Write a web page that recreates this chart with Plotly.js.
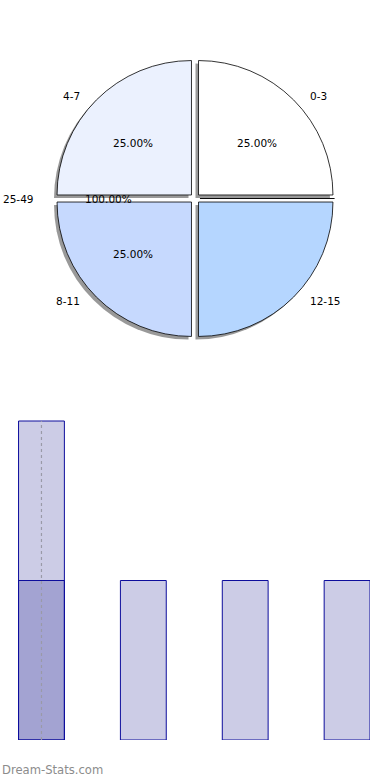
<!DOCTYPE html>
<html>
<head>
<meta charset="utf-8">
<script src="https://cdn.plot.ly/plotly-3.0.1.min.js"></script>
<style>html,body{margin:0;padding:0;background:#fff}#chart{width:390px;height:780px}</style>
</head>
<body>
<div id="chart"></div>
<script>
// ---- data ----
var pieLabels = ['0-3', '4-7', '8-11', '12-15', '25-49'];
var pieValues = [1, 1, 1, 1, 0];
var pieColors = ['#ffffff', '#ebf1fe', '#c6d9fe', '#b5d6ff', '#a8cdff'];
var pieLabelAngles = [45, 135, 225, 315, 180];   // where each outer label sits (deg)
var pctTexts = ['25.00%', '25.00%', '25.00%', '', '100.00%'];
var pctAngles = [45, 135, 225, 315, 180];

var barX = [0, 1, 2, 3];
var barA = [1, 1, 1, 1];
var barBX = [0];
var barB = [2];
var lineX = [0, 0];
var lineY = [0, 2];

// ---- geometry (layout only) ----
var W = 390, H = 780;
var cx = 195, cy = 198.5, pull = 0.037;
var half = 143 * 0.975;
var rxT = 145, ryT = 131.5; // text placement radii
function px2x(p){ return p / W; }
function px2y(p){ return 1 - p / H; }

var pullArr = pieValues.map(function(){ return pull; });

var shadow = {
  type: 'pie', values: pieValues, labels: pieLabels, sort: false,
  direction: 'counterclockwise', rotation: 0, pull: pullArr,
  marker: {colors: pieValues.map(function(){return 'rgba(70,70,70,0.55)';}), line: {width: 0}},
  textinfo: 'none', hoverinfo: 'skip', showlegend: false,
  domain: {x: [px2x(cx - half - 3), px2x(cx + half - 3)], y: [px2y(cy + half + 3), px2y(cy - half + 3)]}
};
var pie = {
  type: 'pie', values: pieValues, labels: pieLabels, sort: false,
  direction: 'counterclockwise', rotation: 0, pull: pullArr,
  marker: {colors: pieColors, line: {color: '#000', width: 0.8}},
  textinfo: 'none', hoverinfo: 'label+percent', showlegend: false,
  domain: {x: [px2x(cx - half), px2x(cx + half)], y: [px2y(cy + half), px2y(cy - half)]}
};

var tallBar = {
  type: 'bar', x: barBX, y: barB, width: 0.45,
  marker: {color: 'rgba(0,0,128,0.2)', line: {color: '#0d0d9c', width: 1}},
  showlegend: false, hoverinfo: 'x+y'
};
var bars = {
  type: 'bar', x: barX, y: barA, width: 0.45,
  marker: {color: 'rgba(0,0,128,0.2)', line: {color: '#0d0d9c', width: 1}},
  showlegend: false, hoverinfo: 'x+y'
};
var vline = {
  type: 'scatter', mode: 'lines', x: lineX, y: lineY,
  line: {color: '#9a9aa8', width: 1.2, dash: 'dot'},
  showlegend: false, hoverinfo: 'skip'
};

var font = {family: 'DejaVu Sans', size: 10.5, color: '#000'};
var annotations = [];
pieLabels.forEach(function(lab, i){
  var a = pieLabelAngles[i] * Math.PI / 180;
  var c = Math.cos(a), s = Math.sin(a);
  var x = cx + 1.1 * rxT * c, y = cy - 1.1 * ryT * s;
  annotations.push({text: lab, x: px2x(x), y: px2y(y), xref: 'paper', yref: 'paper',
    xanchor: c > 0.01 ? 'left' : (c < -0.01 ? 'right' : 'center'), yanchor: 'middle',
    showarrow: false, font: font});
});
pctTexts.forEach(function(t, i){
  if (!t) return;
  var a = pctAngles[i] * Math.PI / 180;
  var x = cx + 0.6 * rxT * Math.cos(a), y = cy - 0.6 * ryT * Math.sin(a);
  annotations.push({text: t, x: px2x(x), y: px2y(y), xref: 'paper', yref: 'paper',
    xanchor: 'center', yanchor: 'middle', showarrow: false, font: font});
});
annotations.push({text: 'Dream-Stats.com', x: 0, y: px2y(770), xref: 'paper', yref: 'paper',
  xanchor: 'left', yanchor: 'middle', showarrow: false,
  font: {family: 'DejaVu Sans', size: 11.6, color: '#8c8c8c'}});

var layout = {
  width: W, height: H,
  margin: {l: 0, r: 0, t: 0, b: 0},
  paper_bgcolor: '#fff', plot_bgcolor: 'rgba(0,0,0,0)',
  barmode: 'overlay', showlegend: false,
  xaxis: {domain: [0, 370 / 390], range: [-0.407, 3.225], showgrid: false, zeroline: false,
          showticklabels: false, showline: false, ticks: ''},
  yaxis: {domain: [40 / 780, (780 - 740 + 2.2 * 159.5) / 780], range: [0, 2.2], showgrid: false,
          zeroline: false, showticklabels: false, showline: false, ticks: ''},
  annotations: annotations
};

Plotly.newPlot('chart', [shadow, pie, tallBar, bars, vline], layout, {displayModeBar: false, staticPlot: true});
</script>
</body>
</html>
